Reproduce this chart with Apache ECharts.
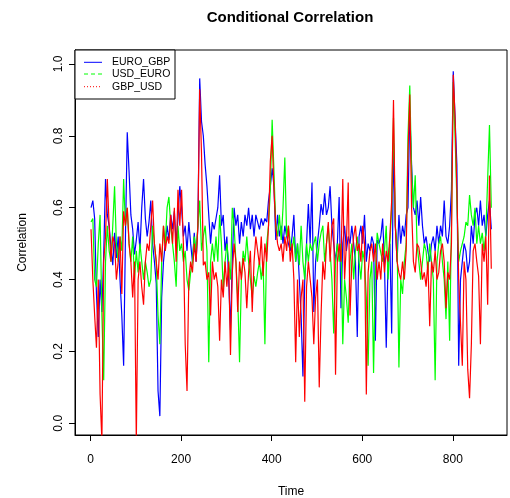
<!DOCTYPE html>
<html><head><meta charset="utf-8">
<script src="https://cdn.jsdelivr.net/npm/echarts@6/dist/echarts.min.js"></script>
<style>html,body{margin:0;padding:0;background:#fff}#c{width:510px;height:498px}</style>
</head><body><div id="c"></div>
<script>
const seriesNames = ['EURO_GBP', 'USD_EURO', 'GBP_USD'];
const xTicks = [0, 200, 400, 600, 800];
const yTicks = [0, 0.2, 0.4, 0.6, 0.8, 1.0];
const timeStart = 1, timeStep = 4;

const euroGbp = [
0.60,0.62,0.57,0.36,0.24,0.40,0.31,0.47,0.68,0.58,
0.55,0.49,0.44,0.53,0.46,0.52,0.40,0.30,0.16,0.52,
0.81,0.70,0.58,0.54,0.47,0.51,0.56,0.48,0.60,0.68,
0.57,0.52,0.56,0.62,0.50,0.45,0.39,0.09,0.02,0.35,
0.45,0.50,0.55,0.51,0.58,0.54,0.59,0.50,0.57,0.66,
0.60,0.52,0.55,0.48,0.56,0.50,0.45,0.53,0.45,0.55,
0.96,0.84,0.80,0.72,0.66,0.58,0.50,0.56,0.54,0.57,
0.60,0.69,0.55,0.58,0.48,0.52,0.40,0.26,0.45,0.60,
0.55,0.58,0.50,0.56,0.52,0.58,0.55,0.60,0.54,0.58,
0.52,0.58,0.56,0.54,0.57,0.55,0.57,0.56,0.62,0.66,
0.71,0.66,0.51,0.58,0.52,0.55,0.50,0.55,0.52,0.50,
0.48,0.52,0.58,0.45,0.50,0.40,0.30,0.13,0.40,0.50,
0.61,0.50,0.67,0.31,0.45,0.50,0.55,0.61,0.58,0.64,
0.58,0.60,0.66,0.55,0.50,0.45,0.50,0.63,0.32,0.50,
0.55,0.48,0.52,0.50,0.55,0.50,0.45,0.24,0.52,0.55,
0.50,0.58,0.45,0.50,0.48,0.52,0.50,0.23,0.51,0.50,
0.52,0.57,0.45,0.21,0.45,0.50,0.25,0.78,0.55,0.45,
0.58,0.50,0.55,0.52,0.58,0.60,0.87,0.72,0.60,0.58,
0.62,0.55,0.63,0.55,0.50,0.52,0.48,0.45,0.50,0.52,
0.48,0.55,0.50,0.55,0.52,0.62,0.52,0.50,0.55,0.65,
0.98,0.85,0.72,0.16,0.40,0.45,0.50,0.48,0.42,0.45,
0.55,0.50,0.58,0.60,0.55,0.62,0.55,0.58,0.52,0.58,
0.62,0.54];

const usdEuro = [
0.56,0.57,0.40,0.38,0.50,0.58,0.30,0.12,0.45,0.55,
0.48,0.45,0.55,0.66,0.50,0.45,0.52,0.48,0.68,0.55,
0.60,0.50,0.45,0.52,0.40,0.48,0.42,0.50,0.45,0.40,
0.45,0.42,0.38,0.40,0.55,0.50,0.45,0.30,0.22,0.45,
0.55,0.50,0.60,0.63,0.55,0.50,0.45,0.38,0.55,0.48,
0.50,0.45,0.48,0.40,0.37,0.42,0.45,0.52,0.48,0.55,
0.62,0.48,0.52,0.55,0.48,0.17,0.45,0.50,0.45,0.52,
0.45,0.58,0.50,0.37,0.45,0.50,0.45,0.40,0.60,0.55,
0.45,0.35,0.17,0.40,0.48,0.45,0.52,0.45,0.40,0.35,
0.41,0.38,0.42,0.45,0.40,0.45,0.22,0.50,0.55,0.65,
0.845,0.70,0.55,0.52,0.58,0.51,0.60,0.74,0.52,0.55,
0.50,0.48,0.52,0.45,0.50,0.44,0.55,0.45,0.40,0.50,
0.45,0.50,0.48,0.50,0.52,0.45,0.50,0.53,0.55,0.45,
0.50,0.55,0.48,0.40,0.25,0.45,0.50,0.45,0.50,0.22,
0.40,0.35,0.28,0.45,0.50,0.40,0.48,0.52,0.45,0.40,
0.48,0.45,0.35,0.16,0.40,0.45,0.14,0.42,0.53,0.50,
0.50,0.45,0.48,0.55,0.40,0.50,0.60,0.85,0.55,0.50,
0.155,0.40,0.36,0.45,0.50,0.80,0.94,0.70,0.60,0.69,
0.50,0.45,0.40,0.45,0.50,0.48,0.42,0.50,0.45,0.40,
0.12,0.45,0.50,0.52,0.45,0.40,0.29,0.45,0.23,0.55,
0.95,0.80,0.62,0.45,0.48,0.50,0.52,0.56,0.55,0.635,
0.58,0.55,0.60,0.50,0.55,0.50,0.53,0.48,0.53,0.53,
0.83,0.60];

const gbpUsd = [
0.54,0.40,0.30,0.21,0.40,0.08,-0.05,0.45,0.52,0.68,
0.55,0.45,0.52,0.50,0.40,0.45,0.52,0.36,0.59,0.55,
0.60,0.50,0.45,0.35,0.45,-0.05,0.40,0.45,0.38,0.33,
0.45,0.50,0.48,0.55,0.62,0.50,0.45,0.40,0.50,0.45,
0.55,0.48,0.52,0.50,0.58,0.50,0.60,0.45,0.65,0.55,
0.65,0.50,0.22,0.09,0.40,0.45,0.42,0.50,0.45,0.55,
0.93,0.75,0.44,0.45,0.40,0.42,0.30,0.45,0.40,0.42,
0.38,0.23,0.40,0.35,0.45,0.38,0.45,0.19,0.42,0.50,
0.45,0.31,0.45,0.40,0.46,0.42,0.32,0.42,0.48,0.31,
0.45,0.52,0.48,0.44,0.52,0.41,0.50,0.45,0.55,0.73,
0.80,0.65,0.55,0.50,0.48,0.50,0.45,0.52,0.48,0.55,
0.45,0.50,0.40,0.17,0.40,0.24,0.35,0.40,0.06,0.38,
0.45,0.40,0.35,0.22,0.35,0.40,0.10,0.30,0.45,0.40,
0.50,0.56,0.45,0.55,0.57,0.135,0.45,0.50,0.45,0.68,
0.40,0.50,0.67,0.30,0.45,0.52,0.55,0.48,0.50,0.45,
0.55,0.50,0.08,0.42,0.48,0.50,0.45,0.50,0.40,0.45,
0.40,0.50,0.42,0.48,0.45,0.52,0.62,0.90,0.55,0.45,
0.42,0.40,0.45,0.40,0.48,0.75,0.915,0.60,0.45,0.42,
0.50,0.49,0.45,0.40,0.42,0.38,0.45,0.27,0.45,0.42,
0.48,0.40,0.42,0.48,0.50,0.45,0.32,0.42,0.40,0.50,
0.97,0.85,0.65,0.40,0.28,0.16,0.45,0.40,0.15,0.07,
0.22,0.48,0.50,0.45,0.41,0.22,0.50,0.45,0.52,0.33,
0.69,0.43];

const time = euroGbp.map((_, i) => timeStart + timeStep * i);
const colors = ['#0000FF', '#00FF00', '#FF0000'];
const FONT = '"Liberation Sans", Arial, sans-serif';

const chart = echarts.init(document.getElementById('c'), null, {renderer: 'canvas'});

function mk(name, vals, color) {
  return {
    name, type: 'line', data: time.map((t, i) => [t, vals[i]]),
    showSymbol: false, symbol: 'none', clip: true, animation: false,
    lineStyle: {color, width: 1.2}, itemStyle: {color}
  };
}

const legY = [62.3, 74, 86.7];
const dashes = [null, [4, 3], [1, 2]];
const legendEls = [{
  type: 'rect', shape: {x: 75, y: 50, width: 100, height: 49},
  style: {fill: '#fff', stroke: '#000', lineWidth: 1}, z: 100
}];
seriesNames.forEach((n, i) => {
  legendEls.push({
    type: 'line', shape: {x1: 84, y1: legY[i], x2: 102, y2: legY[i]},
    style: {stroke: colors[i], lineWidth: 1, lineDash: dashes[i]}, z: 101
  });
  legendEls.push({
    type: 'text', x: 112, y: legY[i],
    style: {text: n, fill: '#000', font: '10.5px ' + FONT, textVerticalAlign: 'middle'}, z: 101
  });
});
legendEls.push({
  type: 'text', x: 290, y: 18,
  style: {text: 'Conditional Correlation', fill: '#000', font: 'bold 15px ' + FONT,
          textAlign: 'center', textVerticalAlign: 'middle'}
});

const axisCommon = {
  axisLine: {show: true, onZero: false, lineStyle: {color: '#000', width: 1}},
  axisTick: {show: true, inside: false, length: 6, lineStyle: {color: '#000', width: 1}},
  splitLine: {show: false}
};

chart.setOption({
  animation: false,
  backgroundColor: '#fff',
  grid: {left: 75, right: 3, top: 50, bottom: 63, outerBoundsMode: 'none', containLabel: false,
         show: true, borderColor: '#000', borderWidth: 1, backgroundColor: 'transparent'},
  xAxis: Object.assign({}, axisCommon, {
    type: 'value', min: -34.4, max: 919.7,
    axisTick: Object.assign({}, axisCommon.axisTick, {customValues: xTicks}),
    axisLabel: {customValues: xTicks, color: '#000', fontSize: 12, fontFamily: FONT, margin: 19},
    name: 'Time', nameLocation: 'middle', nameGap: 51,
    nameTextStyle: {color: '#000', fontSize: 12, fontFamily: FONT}
  }),
  yAxis: Object.assign({}, axisCommon, {
    type: 'value', min: -0.0326, max: 1.039,
    axisTick: Object.assign({}, axisCommon.axisTick, {customValues: yTicks}),
    axisLabel: {customValues: yTicks, color: '#000', fontSize: 12, fontFamily: FONT, margin: 10, rotate: 90,
                formatter: v => Number(v).toFixed(1)},
    name: 'Correlation', nameLocation: 'middle', nameGap: 46,
    nameTextStyle: {color: '#000', fontSize: 12, fontFamily: FONT}
  }),
  series: [mk(seriesNames[0], euroGbp, colors[0]), mk(seriesNames[1], usdEuro, colors[1]), mk(seriesNames[2], gbpUsd, colors[2])],
  graphic: legendEls
});
</script>
</body></html>
